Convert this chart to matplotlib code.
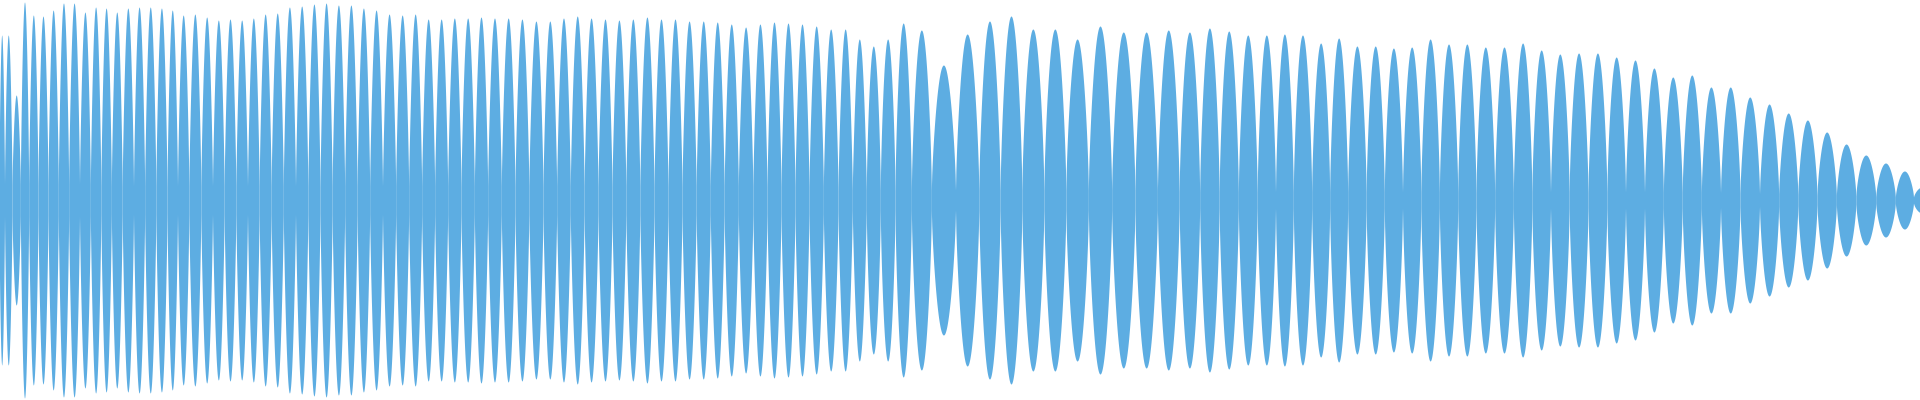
import numpy as np
import matplotlib
matplotlib.use("Agg")
import matplotlib.pyplot as plt

# waveform lobes: centre position (sample bin), peak amplitude, floor amplitude
lobe_pos = [
    1.7, 7.3, 16.7, 24, 33.3, 42.7, 53.3, 63.3, 74, 85, 95.7, 106, 116.7, 127.7,
    139.3, 150, 161.7, 172.3, 182.7, 195, 206.7, 218.3, 230, 241.7, 253.3, 265,
    277.3, 289.3, 301.7, 314, 326, 338.3, 351, 363.3, 376, 389, 402.3, 415, 428.3,
    441, 454.3, 467.7, 481, 494.3, 508.3, 521.7, 536, 550, 563.3, 577.3, 591, 605,
    619, 632.7, 647, 661, 675, 689, 703.3, 717.3, 731, 745.7, 760, 774, 788, 802,
    816, 830.7, 845.3, 859.3, 873.3, 887.3, 902.7, 920, 942.7, 968.3, 989.3, 1011,
    1032.7, 1055, 1076.7, 1100, 1123.3, 1146.5, 1168.3, 1190, 1209.3, 1229, 1247.7,
    1266.7, 1284.3, 1302.3, 1321, 1338.3, 1357, 1375.3, 1393.3, 1411.7, 1430,
    1448.7, 1466.7, 1485.3, 1504, 1522.7, 1541, 1560, 1578.3, 1597.7, 1616, 1635,
    1654, 1672.7, 1691.7, 1711, 1730, 1750, 1769, 1788.3, 1807.3, 1826.7, 1846,
    1865.7, 1885.7, 1905, 1922,
]
lobe_peak = [
    165, 165, 105, 198, 185, 184, 190, 197, 197, 188, 193, 192, 188, 192,
    193, 193, 192, 190, 185, 186, 183, 180, 181, 180, 182, 186,
    187, 193, 194, 196, 197, 195, 195, 192, 190, 186, 185, 186, 181,
    181, 182, 182, 183, 182, 182, 181, 179, 179, 182, 184, 182, 181,
    180, 181, 183, 181, 181, 179, 179, 178, 176, 173, 176, 178, 177, 176,
    174, 171, 171, 161, 154, 161, 177, 170, 135, 166, 179, 184,
    171, 171, 161, 174, 168, 168, 170, 168, 172, 169, 165,
    165, 166, 165, 157, 162, 154, 154, 152, 153, 161,
    156, 156, 153, 153, 157, 150, 146, 147, 147, 143, 140,
    132, 123, 125, 113, 113, 103, 96, 87, 80, 68,
    56, 45, 37, 29, 13,
]
lobe_floor = (
    [16] * 10 + [14] * 58 + [10] * 16 + [8] * 28
    + [8, 8, 7, 7, 6, 6, 5, 5, 4, 4, 3, 3, 3]
)

COLOR = "#5dade2"
SHARP_UNTIL = 860  # narrow lobes are pointed, wide ones are rounder


def main():
    pos = np.asarray(lobe_pos, dtype=float)
    peak = np.asarray(lobe_peak, dtype=float)
    floor = np.asarray(lobe_floor[:len(pos)], dtype=float)

    # lobe edges sit halfway between neighbouring centres
    mids = (pos[:-1] + pos[1:]) / 2
    left = np.concatenate([[pos[0] - (mids[0] - pos[0])], mids])
    right = np.concatenate([mids, [pos[-1] + (pos[-1] - mids[-1])]])

    # unit lobe outlines (shape templates)
    t = np.linspace(0, 1, 61)
    sharp = np.sin(np.pi * t) ** 0.8
    round_ = np.sin(np.pi * t) ** 0.7

    fig = plt.figure(figsize=(19.2, 4), dpi=100)
    ax = fig.add_axes([0, 0, 1, 1])
    for c, l, r, p, f in zip(pos, left, right, peak, floor):
        shape = sharp if c < SHARP_UNTIL else round_
        x = l + t * (r - l)
        a = f + (p - f) * shape
        ax.fill_between(x, -a, a, color=COLOR, lw=0)
    ax.set_xlim(0, 1920)
    ax.set_ylim(-200, 200)
    ax.axis("off")
    fig.savefig("out.png", dpi=100)
    plt.close(fig)


if __name__ == "__main__":
    main()
